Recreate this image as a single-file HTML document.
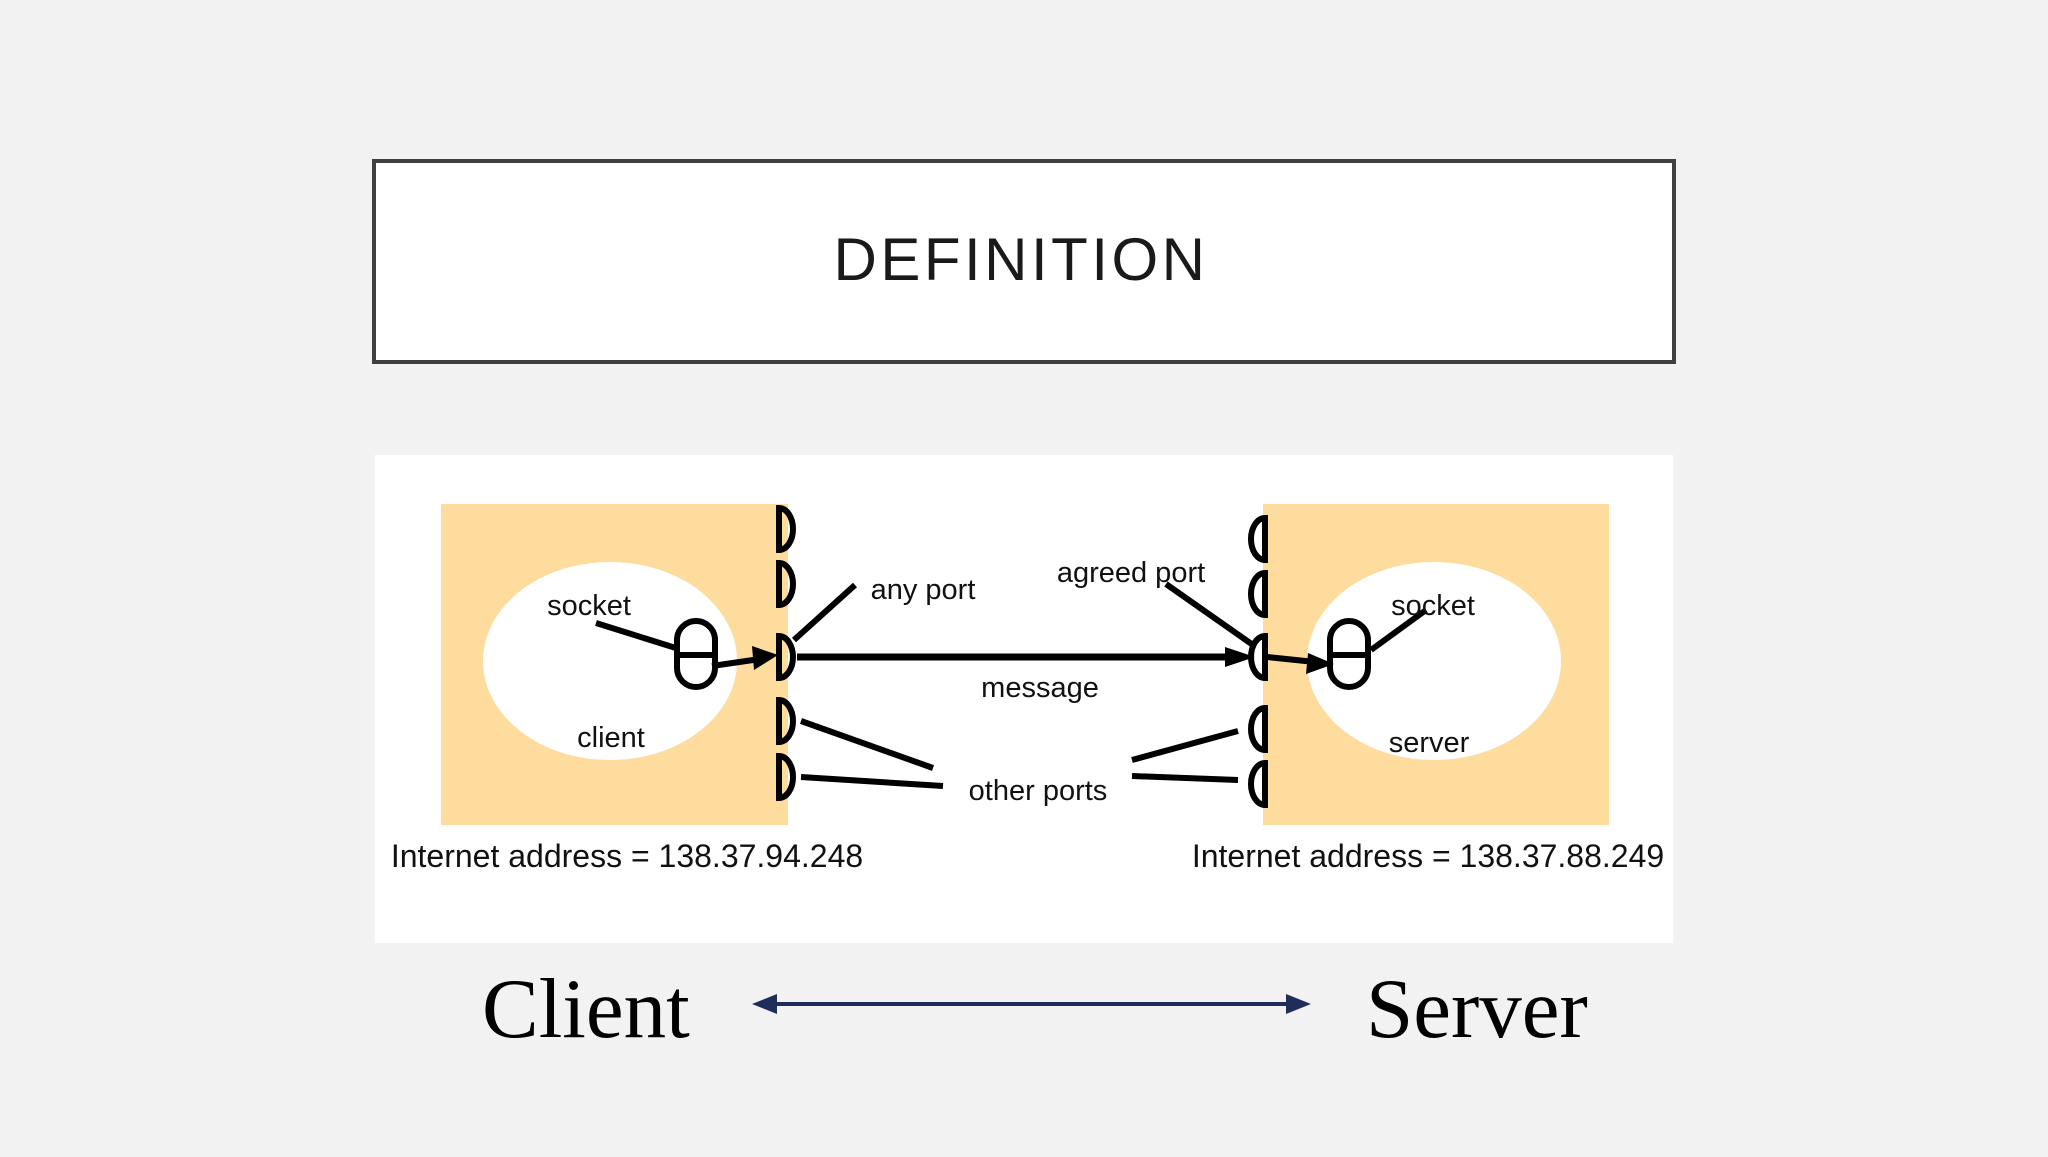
<!DOCTYPE html>
<html><head><meta charset="utf-8"><style>
html,body{margin:0;padding:0;background:#f2f2f2;}
body{width:2048px;height:1152px;overflow:hidden;}
</style></head><body>
<svg width="2048" height="1152" viewBox="0 0 2048 1152" xmlns="http://www.w3.org/2000/svg">
<rect width="2048" height="1152" fill="#f2f2f2"/>
<rect x="374" y="161" width="1300" height="201" fill="#ffffff" stroke="#404040" stroke-width="4"/>
<text x="1021" y="280" text-anchor="middle" font-family="Liberation Sans, sans-serif" font-size="60" letter-spacing="3.5" fill="#1a1a1a">DEFINITION</text>
<rect x="375" y="455" width="1298" height="488" fill="#ffffff"/>
<rect x="441" y="504" width="347" height="321" fill="#fddc9e"/>
<rect x="1263" y="504" width="346" height="321" fill="#fddc9e"/>
<ellipse cx="610" cy="661" rx="127" ry="99" fill="#fff"/>
<ellipse cx="1434" cy="661" rx="127" ry="99" fill="#fff"/>
<g fill="none" stroke="#000" stroke-width="6">
<path d="M779 508 v42 a14 21 0 0 0 0 -42z"/>
<path d="M779 563 v42 a14 21 0 0 0 0 -42z"/>
<path d="M779 636 v42 a14 21 0 0 0 0 -42z"/>
<path d="M779 700 v42 a14 21 0 0 0 0 -42z"/>
<path d="M779 756 v42 a14 21 0 0 0 0 -42z"/>
<path d="M1265 518 v42 a14 21 0 0 1 0 -42z"/>
<path d="M1265 573 v42 a14 21 0 0 1 0 -42z"/>
<path d="M1265 636 v42 a14 21 0 0 1 0 -42z"/>
<path d="M1265 708 v42 a14 21 0 0 1 0 -42z"/>
<path d="M1265 763 v42 a14 21 0 0 1 0 -42z"/>
<rect x="677" y="621" width="38" height="66" rx="19"/>
<line x1="677" y1="655" x2="715" y2="655"/>
<rect x="1330" y="621" width="38" height="66" rx="19"/>
<line x1="1330" y1="655" x2="1368" y2="655"/>
<line x1="797" y1="657" x2="1240" y2="657" stroke-width="7"/>
<line x1="596" y1="623" x2="679" y2="649"/>
<line x1="855" y1="585" x2="794" y2="640"/>
<line x1="801" y1="721" x2="933" y2="768"/>
<line x1="801" y1="777" x2="943" y2="786"/>
<line x1="1238" y1="731" x2="1132" y2="760"/>
<line x1="1238" y1="780" x2="1132" y2="776"/>
<line x1="1166" y1="584" x2="1253" y2="645"/>
<line x1="1426" y1="610" x2="1371" y2="650"/>
<line x1="712" y1="666" x2="760" y2="659"/>
<line x1="1267" y1="657" x2="1315" y2="662"/>
</g>
<g fill="#000">
<polygon points="778,655 752,646 754,670"/>
<polygon points="1255,657 1225,647 1225,667"/>
<polygon points="1334,664 1308,653 1306,674"/>
</g>
<g font-family="Liberation Sans, sans-serif" font-size="29" fill="#111" text-anchor="middle">
<text x="589" y="615">socket</text>
<text x="611" y="747">client</text>
<text x="923" y="599">any port</text>
<text x="1131" y="582">agreed port</text>
<text x="1040" y="697">message</text>
<text x="1038" y="800">other ports</text>
<text x="1433" y="615">socket</text>
<text x="1429" y="752">server</text>
<text x="627" y="867" font-size="32">Internet address = 138.37.94.248</text>
<text x="1428" y="867" font-size="32">Internet address = 138.37.88.249</text>
</g>
<g font-family="Liberation Serif, serif" font-size="85" fill="#000">
<text x="482" y="1037">Client</text>
<text x="1366" y="1037">Server</text>
</g>
<line x1="765" y1="1004" x2="1298" y2="1004" stroke="#1f2d5a" stroke-width="4"/>
<polygon points="752,1004 777,994 777,1014" fill="#1f2d5a"/>
<polygon points="1311,1004 1286,994 1286,1014" fill="#1f2d5a"/>
</svg>
</body></html>
